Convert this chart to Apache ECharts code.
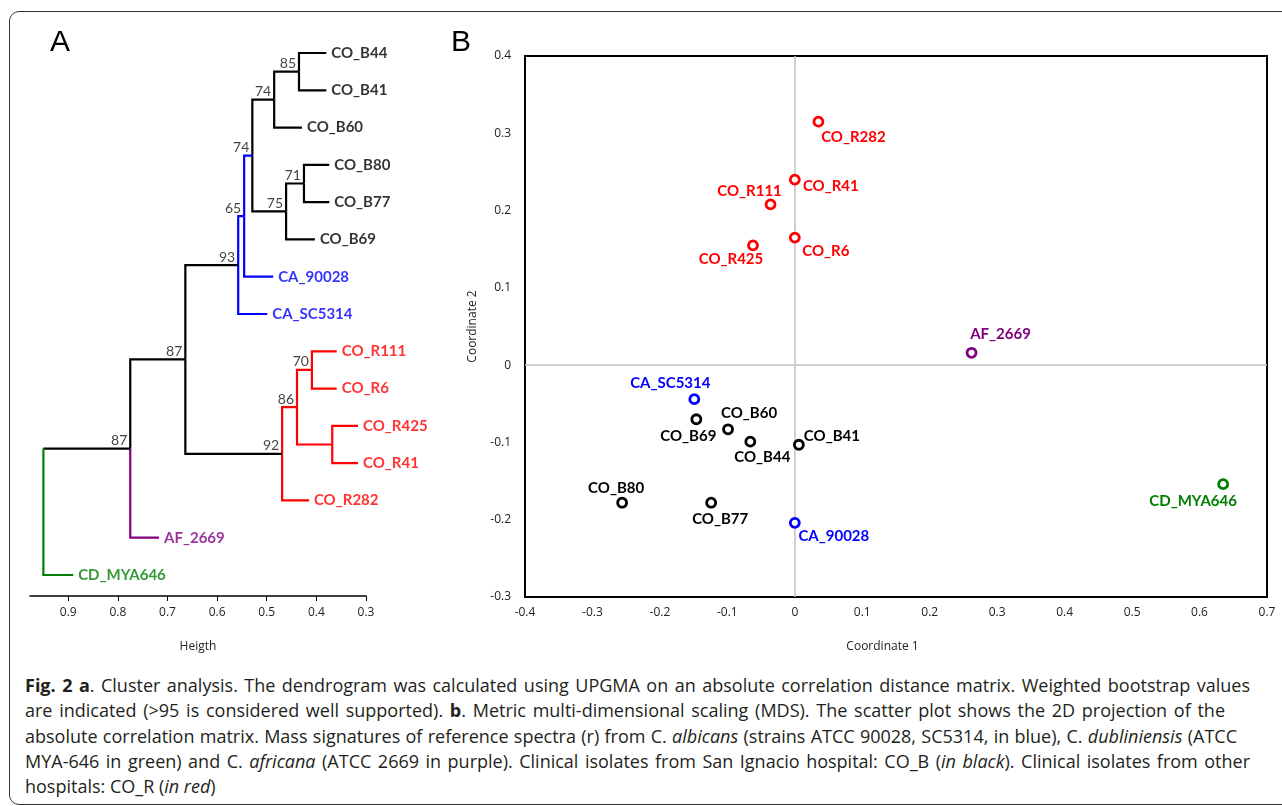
<!DOCTYPE html>
<html>
<head>
<meta charset="utf-8">
<script src="https://cdn.jsdelivr.net/npm/echarts@6/dist/echarts.min.js"></script>
<style>
html,body{margin:0;padding:0;background:#fff;width:1282px;height:806px;overflow:hidden;}
#frame{position:absolute;left:9px;top:11px;width:1320px;height:792px;border:1.5px solid #333;border-radius:10px;}
#chart{position:absolute;left:0;top:0;width:1282px;height:672px;}
#caption{position:absolute;left:25px;top:673px;font-family:"Open Sans";font-size:18px;line-height:25.3px;color:#231f20;white-space:nowrap;}
#caption span{display:inline-block;}
#caption b{font-weight:700;}
</style>
</head>
<body>
<div id="frame"></div>
<div id="chart"></div>
<div id="caption">
<span data-w="1225"><b>Fig. 2 a</b>. Cluster analysis. The dendrogram was calculated using UPGMA on an absolute correlation distance matrix. Weighted bootstrap values</span><br>
<span data-w="1200">are indicated (&gt;95 is considered well supported). <b>b</b>. Metric multi-dimensional scaling (MDS). The scatter plot shows the 2D projection of the</span><br>
<span data-w="1212">absolute correlation matrix. Mass signatures of reference spectra (r) from C. <i>albicans</i> (strains ATCC 90028, SC5314, in blue), C. <i>dubliniensis</i> (ATCC</span><br>
<span data-w="1225">MYA-646 in green) and C. <i>africana</i> (ATCC 2669 in purple). Clinical isolates from San Ignacio hospital: CO_B (<i>in black</i>). Clinical isolates from other</span><br>
<span>hospitals: CO_R (<i>in red</i>)</span>
</div>
<script>
// ---- A: dendrogram, leaves listed top to bottom ----
var leafNames  = ['CO_B44','CO_B41','CO_B60','CO_B80','CO_B77','CO_B69','CA_90028','CA_SC5314','CO_R111','CO_R6','CO_R425','CO_R41','CO_R282','AF_2669','CD_MYA646'];
var leafGroup  = ['B','B','B','B','B','B','CA','CA','R','R','R','R','R','AF','CD'];
var leafHeight = [0.380,0.380,0.429,0.374,0.374,0.403,0.487,0.499,0.359,0.359,0.316,0.316,0.415,0.717,0.890];

// merges, hclust style: -n = leaf n, +n = merge n (both 1-based)
var mergeA       = [-1, 1, -4, 3, 2, 5, 6, -9, -11, 8, 10, 7, 12, 13];
var mergeB       = [-2, -3, -5, -6, 4, -7, -8, -10, -12, 9, -13, 11, -14, -15];
var mergeHeight  = [0.435,0.485,0.425,0.461,0.529,0.5455,0.5575,0.409,0.368,0.439,0.469,0.664,0.775,0.950];
var mergeSupport = [85,74,71,75,74,65,93,70,null,86,92,87,87,null];
// colour group of the branch leading into each merge
var mergeGroup   = ['B','B','B','B','CA','CA','-','R','R','R','-','-','-','-'];
var heightTicks  = [0.9,0.8,0.7,0.6,0.5,0.4,0.3];

// ---- B: metric MDS ----
var mdsNames = ['CO_R282','CO_R41','CO_R111','CO_R6','CO_R425','CA_SC5314','CO_B69','CO_B60','CO_B44','CO_B41','CO_B80','CO_B77','CA_90028','AF_2669','CD_MYA646'];
var mdsGroup = ['R','R','R','R','R','CA','B','B','B','B','B','B','CA','AF','CD'];
var coord1   = [0.035,0.000,-0.036,0.000,-0.062,-0.149,-0.146,-0.099,-0.066,0.006,-0.256,-0.124,0.000,0.262,0.635];
var coord2   = [0.315,0.240,0.208,0.165,0.155,-0.044,-0.070,-0.083,-0.099,-0.103,-0.178,-0.178,-0.204,0.016,-0.154];

var groupColor = {B:'#000000', R:'#ff0000', CA:'#0000ff', AF:'#800080', CD:'#008000', '-':'#000000'};
// label nudges (px) relative to each MDS point
var labelNudge = {
  CO_R282:[35,15], CO_R41:[36,6], CO_R111:[-21,-13], CO_R6:[31,14], CO_R425:[-22,14],
  CA_SC5314:[-24,-16], CO_B69:[-8,17], CO_B60:[21,-16], CO_B44:[12,16], CO_B41:[33,-9],
  CO_B80:[-6,-15], CO_B77:[9,16], CA_90028:[39,13], AF_2669:[29,-19], CD_MYA646:[-30,17]
};

// stretch caption lines to the widths of the original
document.querySelectorAll('#caption span[data-w]').forEach(function(s){
  var gaps = s.textContent.split(' ').length - 1;
  var diff = +s.getAttribute('data-w') - s.getBoundingClientRect().width;
  s.style.wordSpacing = (diff / gaps) + 'px';
});

var nodeH = [], nodeY = [];
function refH(r){ return r < 0 ? leafHeight[-r-1] : nodeH[r-1]; }
function refY(r){ return r < 0 ? -r-1 : nodeY[r-1]; }
function refGroup(r){ return r < 0 ? leafGroup[-r-1] : mergeGroup[r-1]; }

var edges = [];
mergeA.forEach(function(a, k){
  var b = mergeB[k];
  nodeH[k] = mergeHeight[k];
  // root is drawn hanging from its upper child, like the original
  nodeY[k] = (k === mergeA.length - 1) ? refY(a) : (refY(a) + refY(b)) / 2;
  [a, b].forEach(function(c){
    edges.push({value:[nodeH[k], nodeY[k], refH(c), refY(c)], color: groupColor[refGroup(c)]});
  });
});

var leafData = leafNames.map(function(n, i){
  return {name:n, value:[leafHeight[i], i], label:{color: groupColor[leafGroup[i]]}};
});
var supportData = [];
mergeSupport.forEach(function(s, k){
  if (s != null) supportData.push({name:String(s), value:[nodeH[k], nodeY[k]]});
});

var tickFont = {fontFamily:'Open Sans', fontSize:12, color:'#222'};
var labelFont = {fontFamily:'Lato', fontWeight:'bold', fontSize:15};

var mdsSeries = ['R','CA','B','AF','CD'].map(function(g){
  var pts = [];
  mdsNames.forEach(function(n, i){
    if (mdsGroup[i] === g) pts.push({name:n, value:[coord1[i], coord2[i]], label:{offset:labelNudge[n]}});
  });
  return {
    type:'scatter', xAxisIndex:1, yAxisIndex:1, z:5,
    symbol:'circle', symbolSize:9,
    itemStyle:{color:'#fff', opacity:1, borderColor:groupColor[g], borderWidth:2.8},
    label:Object.assign({show:true, position:'inside', formatter:'{b}', color:groupColor[g]}, labelFont),
    data:pts
  };
});

var myChart = echarts.init(document.getElementById('chart'));
myChart.setOption({
  animation:false,
  graphic:[
    {type:'text', left:50, top:28, style:{text:'A', font:'30px "Liberation Sans"', fill:'#000'}},
    {type:'text', left:451, top:28, style:{text:'B', font:'30px "Liberation Sans"', fill:'#000'}}
  ],
  grid:[
    {left:30, top:53, width:336, height:543},
    {left:525, top:56, width:742, height:541, show:true, borderColor:'#000', borderWidth:2, backgroundColor:'transparent'}
  ],
  xAxis:[
    {gridIndex:0, type:'value', inverse:true, min:0.3, max:0.977,
     name:'Heigth', nameLocation:'middle', nameGap:45, nameTextStyle:tickFont,
     axisLine:{onZero:false, lineStyle:{color:'#000', width:1.5}},
     axisTick:{show:true, length:5, customValues:heightTicks, lineStyle:{color:'#000'}},
     axisLabel:Object.assign({customValues:heightTicks, margin:11}, tickFont),
     splitLine:{show:false}},
    {gridIndex:1, type:'value', min:-0.4, max:0.7, interval:0.1,
     name:'Coordinate 1', nameLocation:'middle', nameGap:44,
     nameTextStyle:Object.assign({padding:[0,27,0,0]}, tickFont),
     axisLine:{onZero:false, lineStyle:{color:'#000', width:2}},
     axisTick:{show:false},
     axisLabel:Object.assign({margin:10}, tickFont),
     splitLine:{show:false}}
  ],
  yAxis:[
    {gridIndex:0, type:'value', inverse:true, min:0, max:14.563, show:false},
    {gridIndex:1, type:'value', min:-0.3, max:0.4, interval:0.1,
     name:'Coordinate 2', nameLocation:'middle', nameGap:46, nameTextStyle:tickFont,
     axisLine:{onZero:false, lineStyle:{color:'#000', width:2}},
     axisTick:{show:false},
     axisLabel:Object.assign({margin:14}, tickFont),
     splitLine:{show:false}}
  ],
  series:[
    {type:'custom', xAxisIndex:0, yAxisIndex:0, data:edges,
     renderItem:function(params, api){
       var p = api.coord([api.value(0), api.value(1)]);
       var m = api.coord([api.value(0), api.value(3)]);
       var c = api.coord([api.value(2), api.value(3)]);
       return {type:'polyline', shape:{points:[p, m, c]},
               style:{stroke:edges[params.dataIndex].color, lineWidth:2.2, fill:null}};
     }},
    {type:'scatter', xAxisIndex:0, yAxisIndex:0, symbolSize:0, data:leafData,
     label:Object.assign({show:true, position:'right', distance:5, formatter:'{b}'}, labelFont)},
    {type:'scatter', xAxisIndex:0, yAxisIndex:0, symbolSize:0, data:supportData,
     label:{show:true, position:[-3,-1], align:'right', verticalAlign:'bottom', formatter:'{b}',
            fontFamily:'Lato', fontSize:14, color:'#111'}},
    {type:'scatter', xAxisIndex:1, yAxisIndex:1, data:[], z:1,
     markLine:{silent:true, symbol:'none', label:{show:false}, animation:false,
               lineStyle:{color:'#c0c0c0', width:1.5, type:'solid'},
               data:[{xAxis:0},{yAxis:0}]}}
  ].concat(mdsSeries)
});
</script>
</body>
</html>
